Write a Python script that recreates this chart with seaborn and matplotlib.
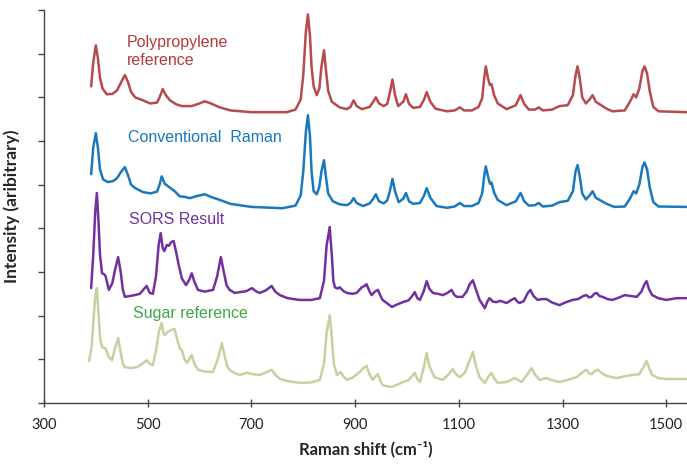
import matplotlib
matplotlib.use("Agg")
import matplotlib.pyplot as plt
import seaborn as sns
import pandas as pd

# ---- data (Raman shift in cm-1, intensity arbitrary) ----
pp_shift = [391, 395, 400, 404, 408, 413, 421, 432, 441, 449, 456, 462, 468, 476, 491, 505, 518, 523, 529, 535,
            543, 555, 566, 585, 600, 610, 622, 639, 660, 700, 768, 785, 795, 800, 805, 809, 813, 816, 820, 826,
            831, 835, 840, 844, 848, 855, 870, 884, 891, 897, 903, 913, 928, 935, 940, 946, 955, 962, 967, 972,
            977, 983, 993, 998, 1004, 1012, 1025, 1033, 1038, 1045, 1055, 1077, 1092, 1102, 1110, 1125, 1138,
            1145, 1149, 1152, 1156, 1160, 1163, 1168, 1175, 1192, 1210, 1219, 1226, 1235, 1247, 1254, 1262,
            1280, 1294, 1310, 1320, 1325, 1329, 1333, 1338, 1345, 1352, 1358, 1364, 1373, 1385, 1396, 1420,
            1430, 1437, 1442, 1448, 1454, 1458, 1463, 1468, 1475, 1485, 1539]
pp_int = [7.25, 7.80, 8.19, 7.90, 7.45, 7.20, 7.07, 7.08, 7.16, 7.35, 7.51, 7.35, 7.12, 7.00, 6.93, 6.86, 6.88, 7.00, 7.19, 7.05,
          6.93, 6.84, 6.80, 6.80, 6.86, 6.91, 6.86, 6.77, 6.70, 6.66, 6.66, 6.72, 6.95, 7.50, 8.50, 8.90, 8.40, 7.70, 7.25, 7.05,
          7.20, 7.70, 8.08, 7.60, 7.15, 6.90, 6.77, 6.73, 6.78, 6.93, 6.80, 6.73, 6.78, 6.90, 7.00, 6.86, 6.80, 6.85, 7.10, 7.41,
          7.05, 6.80, 6.90, 7.07, 6.85, 6.76, 6.78, 6.95, 7.12, 6.90, 6.74, 6.68, 6.70, 6.77, 6.70, 6.70, 6.78,
          6.98, 7.45, 7.71, 7.45, 7.28, 7.30, 7.05, 6.86, 6.73, 6.82, 7.05, 6.85, 6.72, 6.72, 6.77, 6.70,
          6.72, 6.80, 6.82, 7.05, 7.50, 7.71, 7.45, 7.00, 6.86, 6.95, 7.05, 6.90, 6.83, 6.74, 6.68, 6.70,
          6.90, 7.07, 7.00, 7.20, 7.60, 7.71, 7.55, 7.15, 6.78, 6.68, 6.66]

conv_shift = [391, 395, 400, 404, 408, 414, 423, 433, 441, 449, 456, 462, 468, 476, 491, 505, 518, 523, 527, 533,
              543, 552, 562, 572, 581, 595, 610, 622, 639, 660, 700, 760, 785, 795, 800, 805, 809, 813, 816, 820,
              826, 831, 835, 840, 844, 848, 857, 870, 884, 891, 897, 903, 915, 928, 935, 940, 946, 955, 962, 967,
              972, 977, 984, 993, 998, 1004, 1012, 1025, 1033, 1038, 1045, 1057, 1077, 1092, 1102, 1110, 1125,
              1138, 1145, 1149, 1152, 1156, 1160, 1163, 1168, 1175, 1192, 1210, 1219, 1226, 1235, 1247, 1254,
              1262, 1280, 1294, 1310, 1320, 1325, 1329, 1333, 1338, 1345, 1352, 1358, 1364, 1373, 1385, 1400,
              1420, 1430, 1437, 1442, 1448, 1454, 1458, 1463, 1468, 1475, 1485, 1539]
conv_int = [5.24, 5.85, 6.18, 5.85, 5.35, 5.12, 5.06, 5.08, 5.15, 5.30, 5.40, 5.22, 5.00, 4.92, 4.83, 4.80, 4.84, 5.00, 5.19, 5.02,
            4.93, 4.85, 4.73, 4.72, 4.69, 4.74, 4.78, 4.72, 4.65, 4.56, 4.49, 4.46, 4.52, 4.75, 5.30, 6.20, 6.59, 6.10, 5.30, 4.85,
            4.78, 4.95, 5.30, 5.56, 5.15, 4.80, 4.62, 4.55, 4.53, 4.58, 4.69, 4.58, 4.51, 4.57, 4.68, 4.78, 4.62, 4.57, 4.64, 4.85,
            5.13, 4.85, 4.60, 4.68, 4.81, 4.62, 4.56, 4.58, 4.75, 4.92, 4.70, 4.51, 4.47, 4.50, 4.58, 4.51, 4.51,
            4.58, 4.80, 5.20, 5.42, 5.20, 5.02, 5.05, 4.82, 4.65, 4.53, 4.62, 4.81, 4.62, 4.52, 4.53, 4.58,
            4.50, 4.52, 4.60, 4.63, 4.85, 5.30, 5.45, 5.20, 4.80, 4.66, 4.75, 4.85, 4.70, 4.64, 4.56, 4.49,
            4.50, 4.68, 4.85, 4.80, 5.00, 5.40, 5.51, 5.35, 4.95, 4.60, 4.50, 4.49]

sors_shift = [391, 395, 399, 402, 405, 408, 412, 416, 419, 425, 432, 437, 443, 448, 452, 456, 465, 475, 485, 492,
              498, 504, 510, 516, 521, 525, 529, 532, 537, 541, 545, 550, 555, 560, 566, 574, 580, 585, 590, 597,
              610, 626, 634, 641, 646, 652, 658, 668, 678, 690, 701, 710, 716, 728, 739, 746, 755, 770, 793, 815,
              832, 840, 845, 851, 855, 858, 861, 866, 870, 878, 884, 895, 903, 913, 918, 922, 928, 932, 938, 944,
              949, 953, 962, 971, 980, 992, 1003, 1010, 1015, 1020, 1025, 1032, 1038, 1043, 1050, 1060, 1069,
              1078, 1086, 1091, 1096, 1107, 1115, 1121, 1127, 1133, 1140, 1146, 1150, 1155, 1159, 1166, 1173,
              1180, 1192, 1200, 1208, 1212, 1217, 1225, 1233, 1238, 1244, 1252, 1260, 1269, 1280, 1294, 1305,
              1319, 1330, 1340, 1346, 1351, 1356, 1361, 1366, 1371, 1377, 1387, 1396, 1410, 1420, 1432, 1443,
              1452, 1458, 1462, 1467, 1473, 1485, 1500, 1520, 1539]
sors_int = [2.63, 3.40, 4.40, 4.81, 4.20, 3.40, 2.97, 2.95, 2.90, 2.59, 2.75, 3.05, 3.34, 3.00, 2.60, 2.43, 2.45, 2.47, 2.50, 2.60,
            2.68, 2.52, 2.50, 2.90, 3.60, 3.89, 3.55, 3.48, 3.62, 3.60, 3.68, 3.71, 3.45, 3.15, 2.85, 2.70, 2.82, 2.97, 2.78, 2.59,
            2.55, 2.59, 2.90, 3.34, 3.05, 2.70, 2.59, 2.52, 2.54, 2.56, 2.63, 2.55, 2.52, 2.58, 2.68, 2.55, 2.47, 2.40, 2.36, 2.36,
            2.40, 2.80, 3.60, 4.03, 3.40, 2.80, 2.65, 2.62, 2.65, 2.56, 2.52, 2.50, 2.52, 2.65, 2.68, 2.72, 2.55, 2.47, 2.55, 2.59,
            2.45, 2.36, 2.28, 2.20, 2.25, 2.31, 2.35, 2.45, 2.54, 2.40, 2.36, 2.55, 2.79, 2.62, 2.52, 2.50, 2.47,
            2.52, 2.59, 2.48, 2.43, 2.43, 2.55, 2.72, 2.81, 2.60, 2.36, 2.25, 2.17, 2.32, 2.40, 2.32, 2.31,
            2.34, 2.29, 2.35, 2.40, 2.33, 2.29, 2.33, 2.52, 2.59, 2.45, 2.36, 2.38, 2.38, 2.30, 2.24, 2.30,
            2.36, 2.38, 2.45, 2.47, 2.42, 2.43, 2.50, 2.52, 2.45, 2.43, 2.38, 2.36, 2.42, 2.47, 2.45, 2.43,
            2.55, 2.72, 2.79, 2.60, 2.47, 2.40, 2.36, 2.40, 2.40]

sugar_shift = [387, 392, 396, 399, 402, 405, 408, 412, 416, 419, 425, 431, 437, 443, 448, 452, 456, 468, 479, 490,
               498, 504, 510, 516, 522, 527, 531, 533, 540, 547, 552, 557, 562, 566, 571, 576, 580, 585, 590, 597,
               610, 626, 635, 643, 648, 653, 658, 668, 678, 691, 703, 716, 728, 739, 746, 755, 770, 793, 815, 832,
               840, 845, 851, 855, 859, 865, 872, 878, 884, 895, 909, 916, 922, 928, 934, 940, 944, 949, 953, 962,
               971, 982, 992, 1003, 1010, 1015, 1020, 1025, 1032, 1038, 1043, 1053, 1069, 1080, 1088, 1095, 1102,
               1112, 1120, 1127, 1133, 1140, 1150, 1157, 1163, 1169, 1175, 1192, 1208, 1215, 1221, 1232, 1240,
               1247, 1256, 1269, 1280, 1294, 1310, 1327, 1338, 1346, 1351, 1356, 1362, 1368, 1376, 1385, 1404,
               1423, 1448, 1455, 1462, 1467, 1473, 1485, 1500, 1539]
sugar_int = [0.96, 1.30, 2.00, 2.45, 2.63, 2.10, 1.50, 1.28, 1.26, 1.24, 1.05, 0.98, 1.25, 1.49, 1.15, 0.90, 0.82, 0.80, 0.82, 0.90,
             0.98, 0.90, 0.87, 1.20, 1.65, 1.83, 1.58, 1.56, 1.64, 1.68, 1.69, 1.45, 1.25, 1.21, 1.00, 0.92, 1.00, 1.10, 0.90, 0.76,
             0.72, 0.71, 1.00, 1.37, 1.10, 0.85, 0.76, 0.68, 0.64, 0.69, 0.66, 0.64, 0.70, 0.76, 0.65, 0.55, 0.50, 0.46, 0.47, 0.53,
             0.90, 1.60, 2.01, 1.50, 0.90, 0.64, 0.71, 0.60, 0.53, 0.58, 0.71, 0.80, 0.85, 0.65, 0.53, 0.62, 0.66, 0.50, 0.41, 0.38,
             0.37, 0.42, 0.48, 0.52, 0.62, 0.69, 0.55, 0.48, 0.80, 1.14, 0.85, 0.59, 0.53, 0.65, 0.78, 0.65, 0.59,
             0.70, 0.95, 1.17, 0.85, 0.59, 0.46, 0.60, 0.69, 0.55, 0.46, 0.48, 0.57, 0.52, 0.48, 0.65, 0.80,
             0.65, 0.53, 0.57, 0.52, 0.48, 0.53, 0.59, 0.70, 0.76, 0.68, 0.66, 0.73, 0.76, 0.68, 0.62, 0.57,
             0.62, 0.66, 0.80, 0.96, 0.80, 0.64, 0.57, 0.55, 0.55]

series_names = ["Polypropylene\nreference", "Conventional  Raman", "SORS Result", "Sugar reference"]
x_ticks = [300, 500, 700, 900, 1100, 1300, 1500]

# ---- styling ----
sns.set_style("ticks")
plt.rcParams["font.family"] = ["Lato", "DejaVu Sans"]

line_colors = ["#b64a4c", "#1a78bd", "#7131a0", "#c4d1a0"]
text_colors = ["#b23a3d", "#1a78bd", "#7131a0", "#3fa845"]
label_pos = [(460, 8.05), (462, 6.09), (464, 4.21), (471, 2.04)]

fig = plt.figure(figsize=(6.87, 4.70), dpi=100)
ax = fig.add_axes([0.064, 0.1426, 0.936, 0.8361])

all_data = [(pp_shift, pp_int), (conv_shift, conv_int), (sors_shift, sors_int), (sugar_shift, sugar_int)]
for (xs, ys), col in zip(all_data, line_colors):
    df = pd.DataFrame({"shift": xs, "intensity": ys})
    sns.lineplot(data=df, x="shift", y="intensity", ax=ax, color=col, linewidth=1.8,
                 sort=False, solid_joinstyle="round", solid_capstyle="round")

for name, (tx, ty), tc in zip(series_names, label_pos, text_colors):
    ax.text(tx, ty, name, color=tc, fontsize=11.5, ha="left", va="center",
            family=["Liberation Sans", "DejaVu Sans"], linespacing=1.25)

ax.set_xlim(300, 1540)
ax.set_ylim(0, 9)
ax.set_xticks(x_ticks)
ax.set_xticklabels([str(t) for t in x_ticks], fontsize=10.5, color="#222222")
ax.set_yticks(range(0, 10))
ax.set_yticklabels([])
ax.tick_params(axis="x", direction="inout", length=6, width=1, colors="#444444", labelcolor="#222222", pad=8)
ax.tick_params(axis="y", direction="out", length=4, width=1, colors="#444444")
for s in ["top", "right"]:
    ax.spines[s].set_visible(False)
for s in ["left", "bottom"]:
    ax.spines[s].set_color("#444444")
    ax.spines[s].set_linewidth(1.0)

ax.set_xlabel("Raman shift (cm\u207b\u00b9)", fontsize=12, fontweight="bold", labelpad=6,
              family=["Lato", "DejaVu Sans"])
ax.set_ylabel("Intensity (aribitrary)", fontsize=12.5, fontweight="bold", labelpad=10)

fig.savefig("out.png", dpi=100)
